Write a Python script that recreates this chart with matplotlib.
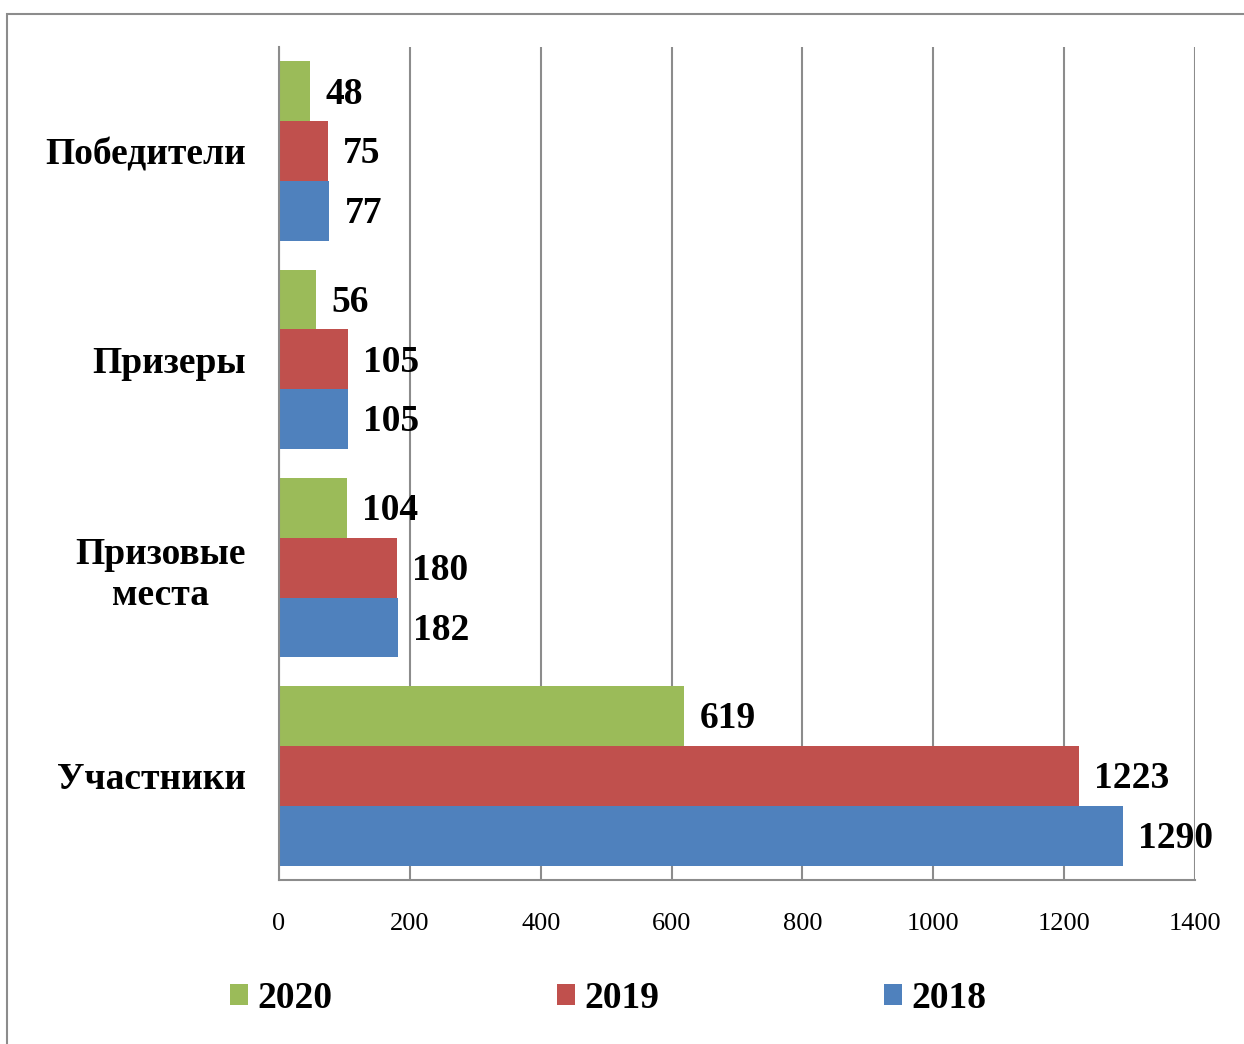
import matplotlib
matplotlib.use("Agg")
import matplotlib.pyplot as plt
from matplotlib.patches import Rectangle
import numpy as np

categories = ["Участники", "Призовые\nместа", "Призеры", "Победители"]
years = ["2018", "2019", "2020"]
v2018 = [1290, 182, 105, 77]
v2019 = [1223, 180, 105, 75]
v2020 = [619, 104, 56, 48]
colors = {"2018": "#4F81BD", "2019": "#C0504D", "2020": "#9BBB59"}
xticks = [0, 200, 400, 600, 800, 1000, 1200, 1400]

plt.rcParams['font.family'] = ['Liberation Serif', 'DejaVu Serif']

fig = plt.figure(figsize=(12.44, 10.44), dpi=100)
# outer border
fig.patches.append(Rectangle((7/1244, -0.01), 1.02, 1 - 14/1044 + 0.01,
                             transform=fig.transFigure, fill=False,
                             edgecolor="#8C8C8C", linewidth=1.5))
ax = fig.add_axes([279/1244, 1 - 880/1044, (1195 - 279)/1244, (880 - 47)/1044])

y = np.arange(len(categories))
h = 0.287
series = [("2018", v2018, -h), ("2019", v2019, 0.0), ("2020", v2020, h)]
for name, vals, off in series:
    bars = ax.barh(y + off, vals, height=h, color=colors[name], zorder=2, label=name)
    for b, v in zip(bars, vals):
        ax.annotate(str(v), (b.get_width(), b.get_y() + b.get_height() / 2),
                    xytext=(11, -2), textcoords="offset points",
                    ha="left", va="center", fontsize=27, fontweight="bold",
                    zorder=5, annotation_clip=False)

ax.set_xlim(0, 1400)
ax.set_ylim(-0.5, len(categories) - 0.5)
ax.set_xticks(xticks)
ax.set_xticklabels([str(t) for t in xticks], fontsize=19)
ax.set_yticks(y)
ax.set_yticklabels(categories, fontsize=27, fontweight="bold", linespacing=1.22)
for lab in ax.get_yticklabels():
    lab.set_multialignment("center")
ax.tick_params(axis="y", length=0, pad=24)
ax.tick_params(axis="x", length=0, pad=24)
ax.grid(axis="x", color="#8C8C8C", linewidth=1.5, zorder=0)
ax.set_axisbelow(True)
for s in ["top", "right"]:
    ax.spines[s].set_visible(False)
ax.spines["left"].set_color("#8C8C8C")
ax.spines["bottom"].set_color("#8C8C8C")
ax.spines["left"].set_linewidth(1.5)
ax.spines["bottom"].set_linewidth(1.5)

handles, labels = ax.get_legend_handles_labels()
order = [2, 1, 0]
leg = fig.legend([handles[i] for i in order], [labels[i] for i in order],
                 loc="center", bbox_to_anchor=(608/1244, 1 - 998/1044), ncol=3,
                 frameon=False, prop={"size": 27, "weight": "bold"},
                 handlelength=0.48, handleheight=0.48, handletextpad=0.24,
                 columnspacing=6.0)

fig.savefig("out.png", dpi=100)
